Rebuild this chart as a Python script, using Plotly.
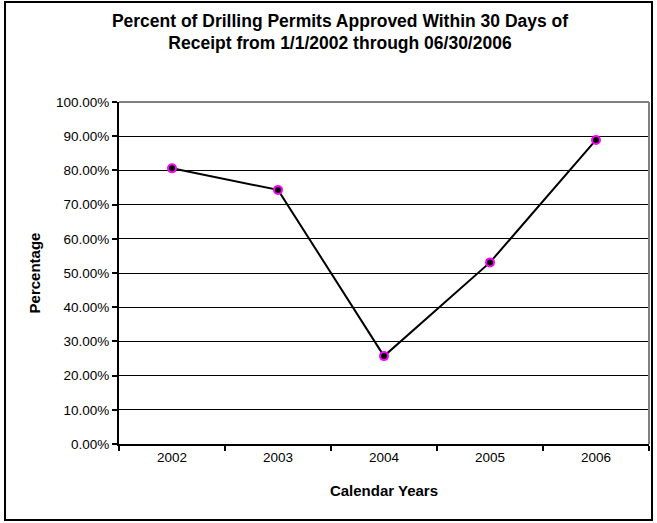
import plotly.graph_objects as go

# data
years = ["2002", "2003", "2004", "2005", "2006"]
pct_approved = [0.806, 0.743, 0.257, 0.531, 0.889]

title_text = ("<b>Percent of Drilling Permits Approved Within 30 Days of<br>"
              "Receipt from 1/1/2002 through 06/30/2006</b>")

fig = go.Figure()
fig.add_trace(go.Scatter(
    x=years, y=pct_approved,
    mode="lines+markers",
    line=dict(color="black", width=2),
    marker=dict(size=8, color="black", line=dict(color="#ff00ff", width=2)),
    showlegend=False,
))

fig.update_layout(
    width=657, height=523,
    margin=dict(l=119, r=8, t=102, b=79),
    paper_bgcolor="white", plot_bgcolor="white",
    font=dict(family="Liberation Sans, Arial", size=13.5, color="black"),
    title=dict(text=title_text, x=0.5175, xanchor="center", y=0.949, yanchor="middle",
               font=dict(size=17.5, color="black")),
)

fig.update_xaxes(
    type="category", range=[-0.5, 4.5],
    tickson="boundaries", ticks="outside", ticklen=5, tickwidth=2, tickcolor="black",
    showline=True, linecolor="black", linewidth=2,
    showgrid=False, zeroline=False,
    title=dict(text="<b>Calendar Years</b>", font=dict(size=15), standoff=21),
)
fig.update_yaxes(
    range=[0, 1], dtick=0.1, tickformat=".2%",
    ticks="outside", ticklen=5, tickwidth=2, tickcolor="black",
    showline=True, linecolor="black", linewidth=2,
    showgrid=True, gridcolor="black", gridwidth=1.3, zeroline=False,
    title=dict(text="<b>Percentage</b>", font=dict(size=15), standoff=12),
)

# grey top/right edges of the plot area
fig.add_shape(type="line", xref="paper", yref="paper", x0=0, x1=1, y0=1, y1=1,
              line=dict(color="#808080", width=2))
fig.add_shape(type="line", xref="paper", yref="paper", x0=1, x1=1, y0=0, y1=1,
              line=dict(color="#808080", width=2))

# outer chart border
fig.add_shape(type="rect", xref="paper", yref="paper",
              x0=(5 - 119) / 530, x1=(652 - 119) / 530,
              y0=(444 - 520) / 342, y1=(444 - 2) / 342,
              line=dict(color="black", width=2))

fig.write_html("out.html", config={"displayModeBar": False},
               post_script="document.body.style.margin='0';")
